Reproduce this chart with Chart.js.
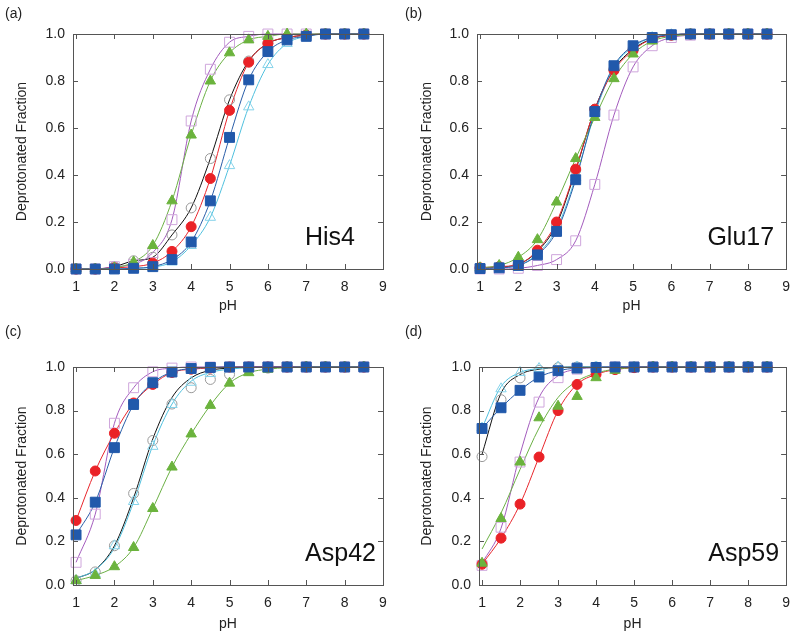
<!DOCTYPE html>
<html>
<head>
<meta charset="utf-8">
<script src="https://cdn.jsdelivr.net/npm/chart.js@4.4.1/dist/chart.umd.min.js"></script>
<style>
  body { margin: 0; background: #fff; }
  #wrap { position: relative; width: 800px; height: 636px; }
  .panel { position: absolute; width: 400px; height: 318px; }
</style>
</head>
<body>
<div id="wrap">
  <div class="panel" style="left:0;top:0"><canvas id="ca"></canvas></div>
  <div class="panel" style="left:400px;top:0"><canvas id="cb"></canvas></div>
  <div class="panel" style="left:0;top:318px"><canvas id="cc"></canvas></div>
  <div class="panel" style="left:400px;top:318px"><canvas id="cd"></canvas></div>
</div>
<script>
// pH values of the titration points
const phValues = [1, 1.5, 2, 2.5, 3, 3.5, 4, 4.5, 5, 5.5, 6, 6.5, 7, 7.5, 8, 8.5];
const xTicks = [1, 2, 3, 4, 5, 6, 7, 8, 9];
const yTicks = [0, 0.2, 0.4, 0.6, 0.8, 1.0];
const residues = ["His4", "Glu17", "Asp42", "Asp59"];
const panelLabels = ["(a)", "(b)", "(c)", "(d)"];

// (a) His4
const aBlack  = [0, 0, 0.01, 0.035, 0.05, 0.145, 0.26, 0.47, 0.72, 0.885, 0.96, 0.985, 0.995, 1, 1, 1];
const aRed    = [0, 0, 0.005, 0.01, 0.025, 0.075, 0.18, 0.385, 0.675, 0.88, 0.96, 0.985, 0.995, 1, 1, 1];
const aBlue   = [0, 0, 0, 0.003, 0.01, 0.04, 0.115, 0.29, 0.56, 0.805, 0.925, 0.975, 0.99, 1, 1, 1];
const aCyan   = [0, 0, 0, 0.003, 0.008, 0.03, 0.10, 0.22, 0.44, 0.69, 0.87, 0.96, 0.99, 1, 1, 1];
const aGreen  = [0, 0, 0.005, 0.03, 0.10, 0.29, 0.57, 0.80, 0.92, 0.975, 0.99, 1, 1, 1, 1, 1];
const aPurple = [0, 0, 0.01, 0.02, 0.07, 0.21, 0.63, 0.85, 0.965, 0.99, 1, 1, 1, 1, 1, 1];

// (b) Glu17
const bBlack  = [0.003, 0.008, 0.02, 0.075, 0.19, 0.42, 0.68, 0.85, 0.935, 0.98, 0.995, 1, 1, 1, 1, 1];
const bRed    = [0.005, 0.01, 0.02, 0.08, 0.20, 0.425, 0.68, 0.845, 0.93, 0.98, 0.995, 1, 1, 1, 1, 1];
const bBlue   = [0.002, 0.005, 0.015, 0.06, 0.16, 0.38, 0.67, 0.865, 0.95, 0.985, 0.997, 1, 1, 1, 1, 1];
const bCyan   = [0.002, 0.006, 0.015, 0.065, 0.17, 0.39, 0.66, 0.86, 0.945, 0.985, 0.997, 1, 1, 1, 1, 1];
const bGreen  = [0.005, 0.015, 0.05, 0.125, 0.285, 0.47, 0.645, 0.81, 0.915, 0.97, 0.99, 0.998, 1, 1, 1, 1];
const bPurple = [0, 0, 0.003, 0.015, 0.04, 0.12, 0.36, 0.655, 0.86, 0.95, 0.985, 0.995, 1, 1, 1, 1];

// (c) Asp42
const cBlack  = [0.02, 0.06, 0.18, 0.42, 0.663, 0.83, 0.905, 0.943, 0.966, 0.985, 0.995, 1, 1, 1, 1, 1];
const cRed    = [0.296, 0.523, 0.696, 0.835, 0.92, 0.975, 0.99, 0.995, 1, 1, 1, 1, 1, 1, 1, 1];
const cBlue   = [0.23, 0.38, 0.63, 0.828, 0.928, 0.977, 0.993, 0.998, 1, 1, 1, 1, 1, 1, 1, 1];
const cCyan   = [0.02, 0.05, 0.18, 0.383, 0.636, 0.828, 0.93, 0.97, 0.99, 0.997, 1, 1, 1, 1, 1, 1];
const cGreen  = [0.02, 0.044, 0.084, 0.172, 0.351, 0.541, 0.693, 0.824, 0.926, 0.974, 0.99, 0.997, 1, 1, 1, 1];
const cPurple = [0.104, 0.325, 0.742, 0.905, 0.978, 0.995, 1, 1, 1, 1, 1, 1, 1, 1, 1, 1];
// fitted curves where they leave the points
const cBlackFit  = [0.03, 0.07, 0.18, 0.40, 0.67, 0.86, 0.95, 0.985, 0.995, 1, 1, 1, 1, 1, 1, 1];
const cCyanFit   = [0.03, 0.07, 0.17, 0.38, 0.64, 0.83, 0.935, 0.975, 0.99, 0.997, 1, 1, 1, 1, 1, 1];

// (d) Asp59
const dBlack  = [0.589, 0.85, 0.95, 0.985, 0.997, 1, 1, 1, 1, 1, 1, 1, 1, 1, 1, 1];
const dRed    = [0.095, 0.215, 0.371, 0.587, 0.80, 0.92, 0.966, 0.988, 0.997, 1, 1, 1, 1, 1, 1, 1];
const dBlue   = [0.718, 0.813, 0.893, 0.954, 0.983, 0.995, 0.998, 1, 1, 1, 1, 1, 1, 1, 1, 1];
const dCyan   = [0.72, 0.90, 0.975, 0.993, 1, 1, 1, 1, 1, 1, 1, 1, 1, 1, 1, 1];
const dGreen  = [0.10, 0.305, 0.564, 0.767, 0.82, 0.865, 0.951, 0.985, 0.997, 1, 1, 1, 1, 1, 1, 1];
const dPurple = [0.09, 0.265, 0.564, 0.839, 0.951, 0.99, 0.997, 1, 1, 1, 1, 1, 1, 1, 1, 1];
const dBlackFit  = [0.60, 0.88, 0.965, 0.99, 0.998, 1, 1, 1, 1, 1, 1, 1, 1, 1, 1, 1];
const dCyanFit   = [0.72, 0.91, 0.975, 0.993, 0.998, 1, 1, 1, 1, 1, 1, 1, 1, 1, 1, 1];
const dGreenFit  = [0.165, 0.33, 0.53, 0.72, 0.86, 0.935, 0.972, 0.99, 0.997, 1, 1, 1, 1, 1, 1, 1];
const dPurpleFit = [0.10, 0.26, 0.60, 0.86, 0.96, 0.99, 0.997, 1, 1, 1, 1, 1, 1, 1, 1, 1];

// marker / line look of each series (stack = draw order, 0 on top)
const styles = {
  blue:   { line: '#2a5ea8', fill: '#2159ab', border: '#2159ab', shape: 'rect', r: 7, stack: 0 },
  green:  { line: '#6bb044', fill: '#6bb33d', border: '#6bb33d', shape: 'triangle', r: 6, stack: 1 },
  red:    { line: '#e8262c', fill: '#ea2227', border: '#ea2227', shape: 'circle', r: 5, stack: 2 },
  purple: { line: '#a35bbd', fill: 'rgba(0,0,0,0)', border: '#cfa6dc', shape: 'rect', r: 7, stack: 3 },
  cyan:   { line: '#4fc0de', fill: 'rgba(0,0,0,0)', border: '#86d3ea', shape: 'triangle', r: 6, stack: 4 },
  black:  { line: '#111111', fill: 'rgba(0,0,0,0)', border: '#999999', shape: 'circle', r: 5, stack: 5 }
};

const panels = [
  { id: 'ca', series: { black: aBlack, red: aRed, blue: aBlue, cyan: aCyan, green: aGreen, purple: aPurple }, fits: {},
    pad: { right: 17, top: 34 }, yw: 73, xh: 49, tag: 28, ytitle: 14 },
  { id: 'cb', series: { black: bBlack, red: bRed, blue: bBlue, cyan: bCyan, green: bGreen, purple: bPurple }, fits: {},
    pad: { right: 13, top: 34 }, yw: 77, xh: 49, tag: 12, ytitle: 19 },
  { id: 'cc', series: { black: cBlack, red: cRed, blue: cBlue, cyan: cCyan, green: cGreen, purple: cPurple },
    fits: { black: cBlackFit, cyan: cCyanFit },
    pad: { right: 17, top: 49 }, yw: 73, xh: 51, tag: 7, ytitle: 14 },
  { id: 'cd', series: { black: dBlack, red: dRed, blue: dBlue, cyan: dCyan, green: dGreen, purple: dPurple },
    fits: { black: dBlackFit, cyan: dCyanFit, green: dGreenFit, purple: dPurpleFit },
    pad: { right: 12, top: 49 }, yw: 79, xh: 51, tag: 7, ytitle: 19 }
];

const FONT = 'Liberation Sans, Arial, sans-serif';

// plot frame, inward ticks, panel letter and residue name
const framePlugin = {
  id: 'frame',
  afterDraw(chart, args, opts) {
    const { ctx, chartArea: a, scales } = chart;
    ctx.save();
    ctx.strokeStyle = '#555';
    ctx.lineWidth = 1;
    ctx.strokeRect(Math.round(a.left) + 0.5, Math.round(a.top) + 0.5,
      Math.round(a.right - a.left), Math.round(a.bottom - a.top));
    ctx.beginPath();
    xTicks.forEach(t => {
      const px = Math.round(scales.x.getPixelForValue(t)) + 0.5;
      ctx.moveTo(px, a.bottom); ctx.lineTo(px, a.bottom - 5);
      ctx.moveTo(px, a.top); ctx.lineTo(px, a.top + 5);
    });
    yTicks.forEach(t => {
      const py = Math.round(scales.y.getPixelForValue(t)) + 0.5;
      ctx.moveTo(a.left, py); ctx.lineTo(a.left + 5, py);
      ctx.moveTo(a.right, py); ctx.lineTo(a.right - 5, py);
    });
    ctx.stroke();
    ctx.fillStyle = '#222';
    ctx.font = '14px ' + FONT;
    ctx.textAlign = 'left';
    ctx.textBaseline = 'middle';
    ctx.fillText(opts.letter, 5, 14);
    ctx.font = '25px ' + FONT;
    ctx.fillStyle = '#111';
    ctx.textAlign = 'right';
    ctx.textBaseline = 'alphabetic';
    ctx.fillText(opts.name, a.right - opts.tag, a.bottom - 24);
    ctx.restore();
  }
};

panels.forEach((p, k) => {
  const datasets = [];
  Object.keys(p.series).forEach(key => {
    const s = styles[key];
    const pts = p.series[key];
    const fit = p.fits[key] || pts;
    datasets.push({
      data: phValues.map((x, i) => ({ x: x, y: fit[i] })),
      showLine: true,
      borderColor: s.line,
      borderWidth: 1,
      pointRadius: 0,
      cubicInterpolationMode: 'monotone',
      order: 20 + s.stack
    });
    datasets.push({
      data: phValues.map((x, i) => ({ x: x, y: pts[i] })),
      showLine: false,
      pointStyle: s.shape,
      pointRadius: s.r,
      pointBackgroundColor: s.fill,
      pointBorderColor: s.border,
      pointBorderWidth: 1,
      order: s.stack
    });
  });

  new Chart(document.getElementById(p.id), {
    type: 'scatter',
    data: { datasets: datasets },
    options: {
      responsive: true,
      maintainAspectRatio: false,
      animation: false,
      clip: false,
      layout: { padding: { left: 0, right: p.pad.right, top: p.pad.top, bottom: 0 } },
      plugins: {
        legend: { display: false },
        tooltip: { enabled: false },
        frame: { letter: panelLabels[k], name: residues[k], tag: p.tag }
      },
      scales: {
        x: {
          type: 'linear',
          min: 0.92, max: 9,
          afterBuildTicks: sc => { sc.ticks = xTicks.map(v => ({ value: v })); },
          afterFit: sc => { sc.height = p.xh; },
          grid: { display: false, drawTicks: false },
          border: { display: false },
          ticks: { color: '#222', font: { family: FONT, size: 14 }, padding: 10,
                   maxRotation: 0, autoSkip: false, callback: v => String(v) },
          title: { display: true, text: 'pH', color: '#222', font: { family: FONT, size: 14 },
                   padding: { top: 0, bottom: 3 } }
        },
        y: {
          min: 0, max: 1,
          afterBuildTicks: sc => { sc.ticks = yTicks.map(v => ({ value: v })); },
          afterFit: sc => { sc.width = p.yw; },
          grid: { display: false, drawTicks: false },
          border: { display: false },
          ticks: { color: '#222', font: { family: FONT, size: 14 }, padding: 8,
                   callback: v => Number(v).toFixed(1) },
          title: { display: true, text: 'Deprotonated Fraction', color: '#222',
                   font: { family: FONT, size: 14 }, padding: { top: p.ytitle, bottom: 0 } }
        }
      }
    },
    plugins: [framePlugin]
  });
});
</script>
</body>
</html>
